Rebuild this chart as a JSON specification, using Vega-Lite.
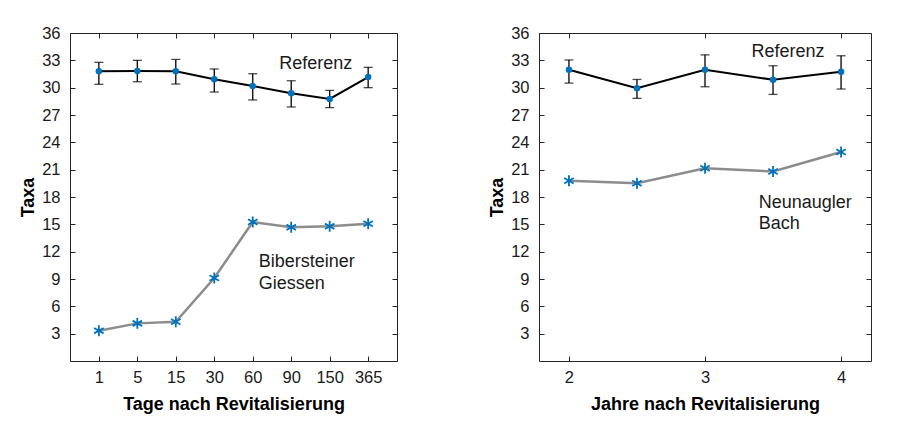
{
  "$schema": "https://vega.github.io/schema/vega-lite/v6.json",
  "background": "white",
  "padding": {"left": 19, "top": 25, "right": 5, "bottom": 5},
  "spacing": 90,
  "config": {
    "view": {"stroke": null},
    "font": "Liberation Sans",
    "axis": {
      "grid": false,
      "domainColor": "#262626",
      "domainWidth": 1,
      "tickColor": "#262626",
      "tickWidth": 1,
      "tickSize": -5,
      "labelFont": "Liberation Sans",
      "labelFontSize": 16.5,
      "labelColor": "#1a1a1a",
      "labelPadding": 15,
      "labelFlush": false,
      "labelOverlap": false,
      "labelBound": false,
      "titleFont": "Liberation Sans",
      "titleFontSize": 18,
      "titleFontWeight": "bold",
      "titleColor": "#000000"
    },
    "axisX": {"labelPadding": 13}
  },
  "datasets": {
    "refTage": [
      {"tag": 1, "taxa": 31.8, "lo": 30.37, "hi": 32.78},
      {"tag": 5, "taxa": 31.83, "lo": 30.65, "hi": 33.0},
      {"tag": 15, "taxa": 31.8, "lo": 30.4, "hi": 33.1},
      {"tag": 30, "taxa": 30.92, "lo": 29.52, "hi": 32.05},
      {"tag": 60, "taxa": 30.18, "lo": 28.65, "hi": 31.53},
      {"tag": 90, "taxa": 29.38, "lo": 27.88, "hi": 30.76},
      {"tag": 150, "taxa": 28.76, "lo": 27.8, "hi": 29.71},
      {"tag": 365, "taxa": 31.17, "lo": 30.0, "hi": 32.23}
    ],
    "bib": [
      {"tag": 1, "taxa": 3.33},
      {"tag": 5, "taxa": 4.13},
      {"tag": 15, "taxa": 4.31},
      {"tag": 30, "taxa": 9.11},
      {"tag": 60, "taxa": 15.26},
      {"tag": 90, "taxa": 14.67},
      {"tag": 150, "taxa": 14.78},
      {"tag": 365, "taxa": 15.07}
    ],
    "labRefTage": [
      {"tag": 90, "taxa": 32.05, "label": "Referenz"}
    ],
    "labBib": [
      {"tag": 60, "taxa": 10.28, "label": "Bibersteiner"},
      {"tag": 60, "taxa": 7.9, "label": "Giessen"}
    ],
    "refJahre": [
      {"jahr": 2, "taxa": 31.97, "lo": 30.5, "hi": 33.04},
      {"jahr": 2.5, "taxa": 29.93, "lo": 28.83, "hi": 30.9},
      {"jahr": 3, "taxa": 31.97, "lo": 30.1, "hi": 33.6},
      {"jahr": 3.5, "taxa": 30.87, "lo": 29.26, "hi": 32.4},
      {"jahr": 4, "taxa": 31.75, "lo": 29.85, "hi": 33.5}
    ],
    "neun": [
      {"jahr": 2, "taxa": 19.79},
      {"jahr": 2.5, "taxa": 19.5},
      {"jahr": 3, "taxa": 21.15},
      {"jahr": 3.5, "taxa": 20.8},
      {"jahr": 4, "taxa": 22.94}
    ],
    "labJahre": [
      {"jahr": 3.341, "taxa": 33.4, "label": "Referenz"},
      {"jahr": 3.395, "taxa": 16.76, "label": "Neunaugler"},
      {"jahr": 3.395, "taxa": 14.49, "label": "Bach"}
    ]
  },
  "hconcat": [
    {
      "width": 327,
      "height": 328,
      "resolve": {"axis": {"x": "independent", "y": "independent"}},
      "layer": [
        {
          "data": {"name": "refTage"},
          "mark": {"type": "rule", "color": "#000000", "strokeWidth": 1.3},
          "encoding": {
            "x": {"field": "tag", "type": "ordinal", "scale": {"type": "point", "padding": 0.75},
                  "axis": {"orient": "bottom", "title": "Tage nach Revitalisierung", "labelAngle": 0, "titlePadding": 10}},
            "y": {"field": "lo", "type": "quantitative", "scale": {"domain": [0, 36], "nice": false, "zero": false},
                  "axis": {"orient": "left", "title": "Taxa", "values": [3,6,9,12,15,18,21,24,27,30,33,36], "titlePadding": 4.5}},
            "y2": {"field": "hi"}
          }
        },
        {
          "data": {"name": "refTage"},
          "mark": {"type": "tick", "color": "#000000", "size": 9, "thickness": 1.3},
          "encoding": {
            "x": {"field": "tag", "type": "ordinal", "scale": {"type": "point", "padding": 0.75},
                  "axis": {"orient": "top", "title": null, "labels": false}},
            "y": {"field": "lo", "type": "quantitative", "scale": {"domain": [0, 36], "nice": false, "zero": false},
                  "axis": {"orient": "right", "title": null, "labels": false, "values": [3,6,9,12,15,18,21,24,27,30,33,36]}}
          }
        },
        {
          "data": {"name": "refTage"},
          "mark": {"type": "tick", "color": "#000000", "size": 9, "thickness": 1.3},
          "encoding": {
            "x": {"field": "tag", "type": "ordinal", "scale": {"type": "point", "padding": 0.75}, "axis": null},
            "y": {"field": "hi", "type": "quantitative", "scale": {"domain": [0, 36], "nice": false, "zero": false}, "axis": null}
          }
        },
        {
          "data": {"name": "refTage"},
          "mark": {"type": "line", "color": "#000000", "strokeWidth": 2},
          "encoding": {
            "x": {"field": "tag", "type": "ordinal", "scale": {"type": "point", "padding": 0.75}, "axis": null},
            "y": {"field": "taxa", "type": "quantitative", "scale": {"domain": [0, 36], "nice": false, "zero": false}, "axis": null}
          }
        },
        {
          "data": {"name": "refTage"},
          "mark": {"type": "point", "filled": true, "color": "#0072BD", "opacity": 1, "size": 42},
          "encoding": {
            "x": {"field": "tag", "type": "ordinal", "scale": {"type": "point", "padding": 0.75}, "axis": null},
            "y": {"field": "taxa", "type": "quantitative", "scale": {"domain": [0, 36], "nice": false, "zero": false}, "axis": null}
          }
        },
        {
          "data": {"name": "bib"},
          "mark": {"type": "line", "color": "#8c8c8c", "strokeWidth": 2.5},
          "encoding": {
            "x": {"field": "tag", "type": "ordinal", "scale": {"type": "point", "padding": 0.75}, "axis": null},
            "y": {"field": "taxa", "type": "quantitative", "scale": {"domain": [0, 36], "nice": false, "zero": false}, "axis": null}
          }
        },
        {
          "data": {"name": "bib"},
          "mark": {"type": "point", "filled": false, "color": "#0072BD", "opacity": 1, "strokeWidth": 1.8, "size": 120,
                   "shape": "M0,-1L0,1M-0.866,-0.5L0.866,0.5M-0.866,0.5L0.866,-0.5"},
          "encoding": {
            "x": {"field": "tag", "type": "ordinal", "scale": {"type": "point", "padding": 0.75}, "axis": null},
            "y": {"field": "taxa", "type": "quantitative", "scale": {"domain": [0, 36], "nice": false, "zero": false}, "axis": null}
          }
        },
        {
          "data": {"name": "labRefTage"},
          "mark": {"type": "text", "align": "left", "baseline": "alphabetic", "fontSize": 18, "font": "Liberation Sans", "color": "#1a1a1a", "dx": -12},
          "encoding": {
            "x": {"field": "tag", "type": "ordinal", "scale": {"type": "point", "padding": 0.75}, "axis": null},
            "y": {"field": "taxa", "type": "quantitative", "scale": {"domain": [0, 36], "nice": false, "zero": false}, "axis": null},
            "text": {"field": "label"}
          }
        },
        {
          "data": {"name": "labBib"},
          "mark": {"type": "text", "align": "left", "baseline": "alphabetic", "fontSize": 18, "font": "Liberation Sans", "color": "#1a1a1a", "dx": 6},
          "encoding": {
            "x": {"field": "tag", "type": "ordinal", "scale": {"type": "point", "padding": 0.75}, "axis": null},
            "y": {"field": "taxa", "type": "quantitative", "scale": {"domain": [0, 36], "nice": false, "zero": false}, "axis": null},
            "text": {"field": "label"}
          }
        }
      ]
    },
    {
      "width": 332,
      "height": 328,
      "resolve": {"axis": {"x": "independent", "y": "independent"}},
      "layer": [
        {
          "data": {"name": "refJahre"},
          "mark": {"type": "rule", "color": "#000000", "strokeWidth": 1.3},
          "encoding": {
            "x": {"field": "jahr", "type": "quantitative", "scale": {"domain": [1.78, 4.22], "nice": false, "zero": false},
                  "axis": {"orient": "bottom", "title": "Jahre nach Revitalisierung", "values": [2, 3, 4], "format": "d", "titlePadding": 10}},
            "y": {"field": "lo", "type": "quantitative", "scale": {"domain": [0, 36], "nice": false, "zero": false},
                  "axis": {"orient": "left", "title": "Taxa", "values": [3,6,9,12,15,18,21,24,27,30,33,36], "titlePadding": 4.5}},
            "y2": {"field": "hi"}
          }
        },
        {
          "data": {"name": "refJahre"},
          "mark": {"type": "tick", "orient": "horizontal", "color": "#000000", "size": 9, "thickness": 1.3},
          "encoding": {
            "x": {"field": "jahr", "type": "quantitative", "scale": {"domain": [1.78, 4.22], "nice": false, "zero": false},
                  "axis": {"orient": "top", "title": null, "labels": false, "values": [2, 3, 4]}},
            "y": {"field": "lo", "type": "quantitative", "scale": {"domain": [0, 36], "nice": false, "zero": false},
                  "axis": {"orient": "right", "title": null, "labels": false, "values": [3,6,9,12,15,18,21,24,27,30,33,36]}}
          }
        },
        {
          "data": {"name": "refJahre"},
          "mark": {"type": "tick", "orient": "horizontal", "color": "#000000", "size": 9, "thickness": 1.3},
          "encoding": {
            "x": {"field": "jahr", "type": "quantitative", "scale": {"domain": [1.78, 4.22], "nice": false, "zero": false}, "axis": null},
            "y": {"field": "hi", "type": "quantitative", "scale": {"domain": [0, 36], "nice": false, "zero": false}, "axis": null}
          }
        },
        {
          "data": {"name": "refJahre"},
          "mark": {"type": "line", "color": "#000000", "strokeWidth": 2},
          "encoding": {
            "x": {"field": "jahr", "type": "quantitative", "scale": {"domain": [1.78, 4.22], "nice": false, "zero": false}, "axis": null},
            "y": {"field": "taxa", "type": "quantitative", "scale": {"domain": [0, 36], "nice": false, "zero": false}, "axis": null}
          }
        },
        {
          "data": {"name": "refJahre"},
          "mark": {"type": "point", "filled": true, "color": "#0072BD", "opacity": 1, "size": 42},
          "encoding": {
            "x": {"field": "jahr", "type": "quantitative", "scale": {"domain": [1.78, 4.22], "nice": false, "zero": false}, "axis": null},
            "y": {"field": "taxa", "type": "quantitative", "scale": {"domain": [0, 36], "nice": false, "zero": false}, "axis": null}
          }
        },
        {
          "data": {"name": "neun"},
          "mark": {"type": "line", "color": "#8c8c8c", "strokeWidth": 2.5},
          "encoding": {
            "x": {"field": "jahr", "type": "quantitative", "scale": {"domain": [1.78, 4.22], "nice": false, "zero": false}, "axis": null},
            "y": {"field": "taxa", "type": "quantitative", "scale": {"domain": [0, 36], "nice": false, "zero": false}, "axis": null}
          }
        },
        {
          "data": {"name": "neun"},
          "mark": {"type": "point", "filled": false, "color": "#0072BD", "opacity": 1, "strokeWidth": 1.8, "size": 120,
                   "shape": "M0,-1L0,1M-0.866,-0.5L0.866,0.5M-0.866,0.5L0.866,-0.5"},
          "encoding": {
            "x": {"field": "jahr", "type": "quantitative", "scale": {"domain": [1.78, 4.22], "nice": false, "zero": false}, "axis": null},
            "y": {"field": "taxa", "type": "quantitative", "scale": {"domain": [0, 36], "nice": false, "zero": false}, "axis": null}
          }
        },
        {
          "data": {"name": "labJahre"},
          "mark": {"type": "text", "align": "left", "baseline": "alphabetic", "fontSize": 18, "font": "Liberation Sans", "color": "#1a1a1a"},
          "encoding": {
            "x": {"field": "jahr", "type": "quantitative", "scale": {"domain": [1.78, 4.22], "nice": false, "zero": false}, "axis": null},
            "y": {"field": "taxa", "type": "quantitative", "scale": {"domain": [0, 36], "nice": false, "zero": false}, "axis": null},
            "text": {"field": "label"}
          }
        }
      ]
    }
  ]
}
